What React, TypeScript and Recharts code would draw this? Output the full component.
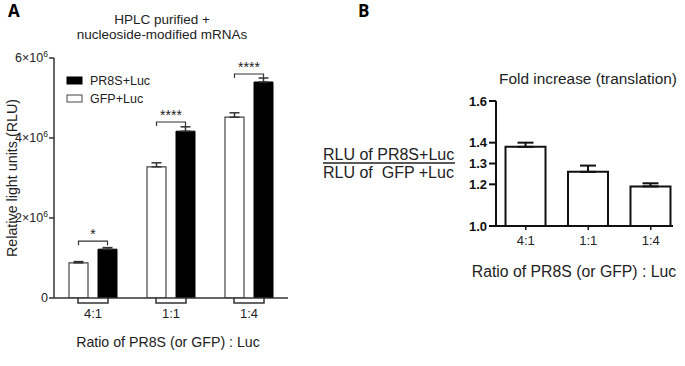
import React from 'react';
import { BarChart, Bar, XAxis, YAxis, ErrorBar, LabelList } from 'recharts';

const categories = ['4:1', '1:1', '1:4'];
const gfpValues = [0.88e6, 3.28e6, 4.52e6];
const gfpErrors = [0.03e6, 0.1e6, 0.11e6];
const pr8sValues = [1.22e6, 4.17e6, 5.4e6];
const pr8sErrors = [0.04e6, 0.11e6, 0.1e6];
const bracketLevels = [1.42e6, 4.4e6, 5.6e6];
const significance = ['*', '****', '****'];
const yTicksA = [0, 2e6, 4e6, 6e6];
const seriesNames = ['PR8S+Luc', 'GFP+Luc'];

const foldValues = [1.38, 1.26, 1.19];
const foldErrors = [0.02, 0.03, 0.015];
const yTicksB = [1.0, 1.2, 1.3, 1.4, 1.6];

const FONT = '"Liberation Sans", Arial, sans-serif';

const dataA = categories.map((c, i) => ({
  cat: c,
  gfp: gfpValues[i],
  gfpErr: [0, gfpErrors[i]],
  pr8s: pr8sValues[i],
  pr8sErr: [0, pr8sErrors[i]],
}));

const dataB = categories.map((c, i) => ({
  cat: c,
  fold: foldValues[i],
  foldErr: [0, foldErrors[i]],
}));

const SciTick = (props: any) => {
  const { x, y, payload } = props;
  const v = payload.value;
  if (v === 0) {
    return (
      <text x={x} y={y} dy={4} textAnchor="end" fontSize={12.5} fill="#222" fontFamily={FONT}>0</text>
    );
  }
  return (
    <text x={x} y={y} dy={4} textAnchor="end" fontSize={12.5} fill="#222" fontFamily={FONT}>
      {v / 1e6}×10<tspan dy={-5} fontSize={8.5}>6</tspan>
    </text>
  );
};

const XTickA = (props: any) => {
  const { x, y, payload } = props;
  return (
    <g>
      <path d={`M${x - 15},${y} V${y + 5} H${x + 15} V${y}`} fill="none" stroke="#333" strokeWidth={1.5} />
      <text x={x} y={y + 20} textAnchor="middle" fontSize={13} fill="#222" fontFamily={FONT}>{payload.value}</text>
    </g>
  );
};

const renderBracket = (props: any) => {
  const { x, y, width, height, value, index } = props;
  const bv = bracketLevels[index];
  const by = y + height - (bv * height) / value;
  const right = x + width / 2;
  const left = right - 29;
  return (
    <g key={`br-${index}`}>
      <path d={`M${left},${by + 4} V${by} H${right} V${by + 4}`} fill="none" stroke="#333" strokeWidth={1.2} />
      <text x={(left + right) / 2} y={by - 2} textAnchor="middle" fontSize={14} fill="#222" fontFamily={FONT}>
        {significance[index]}
      </text>
    </g>
  );
};

export default function App() {
  return (
    <div style={{ position: 'absolute', left: 0, top: 0, width: 685, height: 366, background: '#fff', overflow: 'hidden' }}>
      <div style={{ position: 'absolute', left: 0, top: 0 }}>
        <BarChart width={290} height={366} data={dataA} margin={{ top: 58, right: 2, bottom: 38, left: 0 }} barGap={10} barSize={19}>
          <XAxis
            dataKey="cat"
            height={30}
            axisLine={{ stroke: '#333', strokeWidth: 1.5 }}
            tickLine={false}
            tickSize={0}
            tickMargin={0}
            interval={0}
            tick={<XTickA />}
          />
          <YAxis
            width={54}
            domain={[0, 6e6]}
            ticks={yTicksA}
            type="number"
            interval={0}
            allowDataOverflow
            tick={<SciTick />}
            tickSize={5}
            tickMargin={1}
            axisLine={{ stroke: '#333', strokeWidth: 1.5 }}
            tickLine={{ stroke: '#333', strokeWidth: 1.5 }}
          />
          <Bar dataKey="gfp" name={seriesNames[1]} fill="#fff" stroke="#444" strokeWidth={1.2} isAnimationActive={false}>
            <ErrorBar dataKey="gfpErr" width={5} stroke="#333" strokeWidth={1.5} />
          </Bar>
          <Bar dataKey="pr8s" name={seriesNames[0]} fill="#000" stroke="#000" strokeWidth={1} isAnimationActive={false}>
            <ErrorBar dataKey="pr8sErr" width={5} stroke="#333" strokeWidth={1.5} />
            <LabelList dataKey="pr8s" content={renderBracket} />
          </Bar>
        </BarChart>
      </div>
      <div style={{ position: 'absolute', left: 290, top: 0 }}>
        <BarChart width={395} height={366} data={dataB} margin={{ top: 101, right: 12, bottom: 100, left: 150 }} barSize={40}>
          <XAxis
            dataKey="cat"
            height={40}
            padding={{ left: -1.5, right: -9 }}
            axisLine={{ stroke: '#111', strokeWidth: 2 }}
            tickLine={{ stroke: '#111', strokeWidth: 1.5 }}
            tickSize={4}
            tickMargin={6}
            interval={0}
            tick={{ fontSize: 13, fill: '#222', fontFamily: FONT }}
          />
          <YAxis
            width={56}
            type="number"
            domain={[1.0, 1.6]}
            ticks={yTicksB}
            interval={0}
            allowDataOverflow
            tickFormatter={(v: number) => v.toFixed(1)}
            tickSize={7}
            tickMargin={2}
            axisLine={{ stroke: '#111', strokeWidth: 2 }}
            tickLine={{ stroke: '#111', strokeWidth: 2 }}
            tick={{ fontSize: 13, fontWeight: 'bold', fill: '#111', fontFamily: FONT }}
          />
          <Bar dataKey="fold" fill="#fff" stroke="#111" strokeWidth={2} isAnimationActive={false}>
            <ErrorBar dataKey="foldErr" width={8} stroke="#111" strokeWidth={2} />
          </Bar>
        </BarChart>
      </div>
      <svg width={685} height={366} style={{ position: 'absolute', left: 0, top: 0, pointerEvents: 'none' }}>
        <text x={8} y={17} fontSize={17} fontWeight="bold" fontFamily='"Open Sans", Arial, sans-serif' fill="#000">A</text>
        <text x={358} y={17} fontSize={17} fontWeight="bold" fontFamily='"Open Sans", Arial, sans-serif' fill="#000">B</text>
        <text x={162} y={24} textAnchor="middle" fontSize={13.5} fill="#222" fontFamily={FONT}>HPLC purified +</text>
        <text x={162} y={39} textAnchor="middle" fontSize={13.5} fill="#222" fontFamily={FONT}>nucleoside-modified mRNAs</text>
        <rect x={67} y={77} width={15} height={7} fill="#000" stroke="#000" />
        <text x={90} y={85} fontSize={12.5} fill="#222" fontFamily={FONT}>{seriesNames[0]}</text>
        <rect x={67} y={95} width={15} height={7} fill="#fff" stroke="#444" />
        <text x={90} y={103} fontSize={12.5} fill="#222" fontFamily={FONT}>{seriesNames[1]}</text>
        <text transform="translate(17,178) rotate(-90)" textAnchor="middle" fontSize={14.3} fill="#222" fontFamily={FONT}>Relative light units (RLU)</text>
        <text x={168} y={347} textAnchor="middle" fontSize={14.2} fill="#222" fontFamily={FONT}>Ratio of PR8S (or GFP) : Luc</text>
        <text x={588} y={84} textAnchor="middle" fontSize={15.4} fill="#222" fontFamily={FONT}>Fold increase (translation)</text>
        <text x={574} y={277} textAnchor="middle" fontSize={15.8} fill="#222" fontFamily={FONT}>Ratio of PR8S (or GFP) : Luc</text>
        <text x={323} y={160} fontSize={16} fill="#222" fontFamily={FONT}>RLU of PR8S+Luc</text>
        <line x1={323} y1={163} x2={455} y2={163} stroke="#222" strokeWidth={1.5} />
        <text x={323} y={178} fontSize={16} fill="#222" fontFamily={FONT} xmlSpace="preserve">RLU of  GFP +Luc</text>
      </svg>
    </div>
  );
}
